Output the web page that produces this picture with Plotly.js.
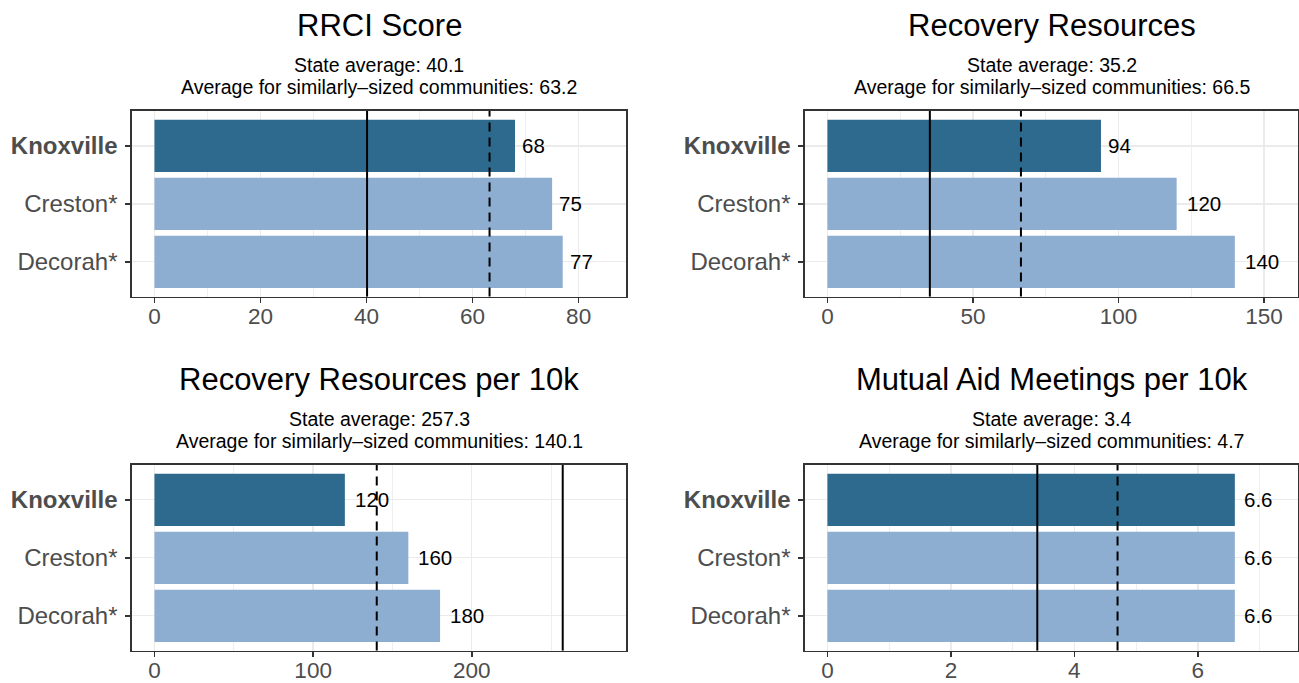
<!DOCTYPE html>
<html>
<head>
<meta charset="utf-8">
<script src="https://cdn.plot.ly/plotly-3.0.1.min.js"></script>
<style>html,body{margin:0;padding:0;background:#fff;}#chart{width:1299px;height:683px;}</style>
</head>
<body>
<div id="chart"></div>
<script>
// ---------------- data ----------------
const categories = ['Knoxville', 'Creston*', 'Decorah*'];
const highlightCategory = 'Knoxville';
const panelTitles = ['RRCI Score', 'Recovery Resources', 'Recovery Resources per 10k', 'Mutual Aid Meetings per 10k'];
const rrciValues = [68, 75, 77];
const resourceValues = [94, 120, 140];
const resourcesPer10kValues = [120, 160, 180];
const mutualAidPer10kValues = [6.6, 6.6, 6.6];
const rrciLabels = ['68', '75', '77'];
const resourceLabels = ['94', '120', '140'];
const resourcesPer10kLabels = ['120', '160', '180'];
const mutualAidPer10kLabels = ['6.6', '6.6', '6.6'];
const stateAverages = [40.1, 35.2, 257.3, 3.4];
const similarAverages = [63.2, 66.5, 140.1, 4.7];
const majorTickSteps = [20, 50, 100, 2];
const minorTickSteps = [10, 25, 50, 1];

const panelValues = [rrciValues, resourceValues, resourcesPer10kValues, mutualAidPer10kValues];
const panelLabels = [rrciLabels, resourceLabels, resourcesPer10kLabels, mutualAidPer10kLabels];

// ---------------- style / layout ----------------
const W = 1299, H = 683;
const FONT = '"Liberation Sans", Arial, Helvetica, sans-serif';
const DARK = '#2E6A8E', LIGHT = '#8DAED1';
const GRID = '#EBEBEB', BORDER = '#333333', AXTEXT = '#4D4D4D';
const boxes = [
  {l: 132, r: 626, t: 111, b: 296.6},
  {l: 805, r: 1298, t: 111, b: 296.6},
  {l: 132, r: 626, t: 465, b: 650.6},
  {l: 805, r: 1298, t: 465, b: 650.6}
];
const px = v => v / W;
const py = v => 1 - v / H;

const traces = [];
const layout = {
  width: W, height: H,
  margin: {l: 0, r: 0, t: 0, b: 0, pad: 0},
  paper_bgcolor: '#fff', plot_bgcolor: '#fff',
  showlegend: false,
  font: {family: FONT, color: '#000'},
  shapes: [], annotations: []
};

function textWidth(s, size) {
  let w = 0;
  for (const ch of s) w += (ch === '.' ? 0.278 : 0.556);
  return w * size;
}

panelValues.forEach((vals, i) => {
  const n = i + 1;
  const xa = 'x' + (n === 1 ? '' : n), ya = 'y' + (n === 1 ? '' : n);
  const xk = 'xaxis' + (n === 1 ? '' : n), yk = 'yaxis' + (n === 1 ? '' : n);
  const box = boxes[i];
  traces.push({
    type: 'bar', orientation: 'h',
    x: vals, y: categories,
    xaxis: xa, yaxis: ya,
    width: 0.9,
    marker: {color: categories.map(c => c === highlightCategory ? DARK : LIGHT), line: {width: 0}},
    hoverinfo: 'skip'
  });
  const top = Math.max(...vals, stateAverages[i], similarAverages[i]) * 1.1;
  layout[xk] = {
    domain: [px(box.l), px(box.r)], anchor: ya,
    range: [-0.05 * top, 1.05 * top],
    tickmode: 'linear', tick0: 0, dtick: majorTickSteps[i],
    ticks: 'outside', ticklen: 5, tickwidth: 1.5, tickcolor: BORDER,
    ticklabelstandoff: -6,
    tickfont: {family: FONT, size: 22.5, color: AXTEXT},
    showgrid: true, gridcolor: GRID, gridwidth: 1.4,
    minor: {tickmode: 'linear', tick0: 0, dtick: minorTickSteps[i], showgrid: true, gridcolor: GRID, gridwidth: 0.8, ticks: ''},
    zeroline: false,
    showline: true, mirror: true, linecolor: BORDER, linewidth: 1.7,
    fixedrange: true
  };
  layout[yk] = {
    domain: [py(box.b), py(box.t)], anchor: xa,
    type: 'category',
    categoryorder: 'array', categoryarray: categories.slice().reverse(),
    range: [-0.6, 2.6],
    tickmode: 'array', tickvals: categories,
    ticktext: categories.map(c => c === highlightCategory ? '<b>' + c + '</b>' : c),
    ticks: 'outside', ticklen: 5, tickwidth: 1.5, tickcolor: BORDER,
    ticklabelstandoff: 3,
    tickfont: {family: FONT, size: 24, color: AXTEXT},
    showgrid: true, gridcolor: GRID, gridwidth: 1.4,
    zeroline: false,
    showline: true, mirror: true, linecolor: BORDER, linewidth: 1.7,
    fixedrange: true
  };
  // reference lines
  layout.shapes.push({
    type: 'line', xref: xa, yref: ya + ' domain',
    x0: stateAverages[i], x1: stateAverages[i], y0: 0, y1: 1,
    line: {color: '#000', width: 2}
  });
  layout.shapes.push({
    type: 'line', xref: xa, yref: ya + ' domain',
    x0: similarAverages[i], x1: similarAverages[i], y0: 0, y1: 1,
    line: {color: '#000', width: 2, dash: '9px,6px'}
  });
  // value labels
  panelLabels[i].forEach((lab, j) => {
    const fs = 20.5;
    layout.annotations.push({
      xref: xa, yref: ya, x: vals[j], y: categories[j],
      text: lab, showarrow: false, xanchor: 'left', yanchor: 'middle',
      xshift: Math.round(0.27 * textWidth(lab, fs)), borderpad: 0,
      font: {family: FONT, size: fs, color: '#000'}
    });
  });
  // titles
  const cx = px((box.l + box.r) / 2);
  layout.annotations.push({
    xref: 'paper', yref: 'paper', x: cx, y: py(box.t - 85.5),
    text: panelTitles[i], showarrow: false, xanchor: 'center', yanchor: 'middle',
    font: {family: FONT, size: 31, color: '#000'}
  });
  layout.annotations.push({
    xref: 'paper', yref: 'paper', x: cx, y: py(box.t - 45.5),
    text: 'State average: ' + stateAverages[i].toFixed(1), showarrow: false, xanchor: 'center', yanchor: 'middle',
    font: {family: FONT, size: 19.5, color: '#000'}
  });
  layout.annotations.push({
    xref: 'paper', yref: 'paper', x: cx, y: py(box.t - 24.5),
    text: 'Average for similarly\u2013sized communities: ' + similarAverages[i].toFixed(1), showarrow: false, xanchor: 'center', yanchor: 'middle',
    font: {family: FONT, size: 19.5, color: '#000'}
  });
});

Plotly.newPlot('chart', traces, layout, {displayModeBar: false, staticPlot: true});
</script>
</body>
</html>
